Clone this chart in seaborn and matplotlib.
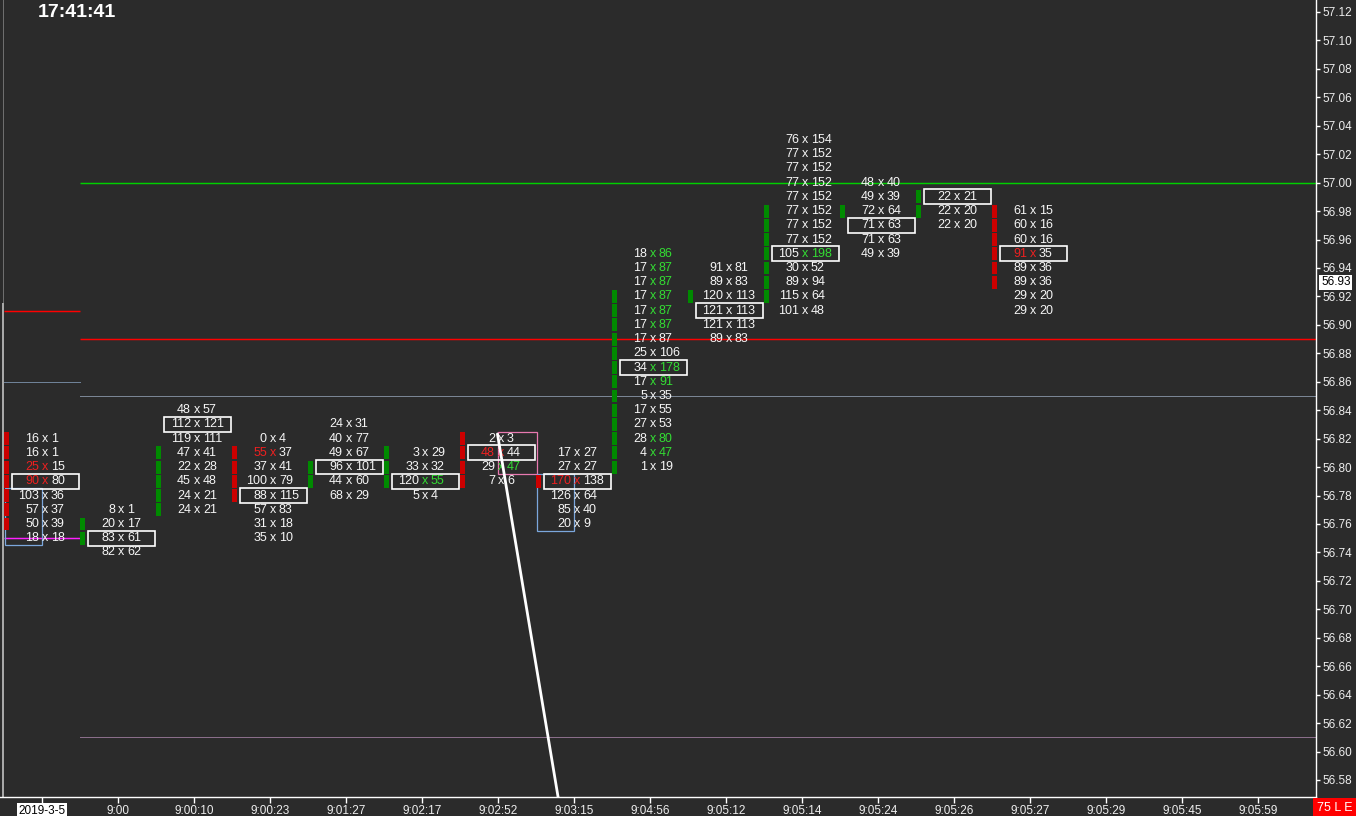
import matplotlib
matplotlib.use("Agg")
import matplotlib.pyplot as plt
import matplotlib.transforms as mtransforms
from matplotlib.patches import Rectangle
import numpy as np
import pandas as pd
import seaborn as sns

# ---------------- data ----------------
time_labels = ["2019-3-5", "9:00", "9:00:10", "9:00:23", "9:01:27", "9:02:17",
               "9:02:52", "9:03:15", "9:04:56", "9:05:12", "9:05:14", "9:05:24",
               "9:05:26", "9:05:27", "9:05:29", "9:05:45", "9:05:59"]
price_ticks = [56.58, 56.60, 56.62, 56.64, 56.66, 56.68, 56.70, 56.72, 56.74,
               56.76, 56.78, 56.80, 56.82, 56.84, 56.86, 56.88, 56.90, 56.92,
               56.94, 56.96, 56.98, 57.00, 57.02, 57.04, 57.06, 57.08, 57.10, 57.12]
last_price = 56.93

col_top = [56.82, 56.77, 56.84, 56.82, 56.83, 56.81, 56.82, 56.81, 56.95,
           56.94, 57.03, 57.00, 56.99, 56.98]
bids = [
    [16, 16, 25, 90, 103, 57, 50, 18],
    [8, 20, 83, 82],
    [48, 112, 119, 47, 22, 45, 24, 24],
    [0, 55, 37, 100, 88, 57, 31, 35],
    [24, 40, 49, 96, 44, 68],
    [3, 33, 120, 5],
    [2, 48, 29, 7],
    [17, 27, 170, 126, 85, 20],
    [18, 17, 17, 17, 17, 17, 17, 25, 34, 17, 5, 17, 27, 28, 4, 1],
    [91, 89, 120, 121, 121, 89],
    [76, 77, 77, 77, 77, 77, 77, 77, 105, 30, 89, 115, 101],
    [48, 49, 72, 71, 71, 49],
    [22, 22, 22],
    [61, 60, 60, 91, 89, 89, 29, 29],
]
asks = [
    [1, 1, 15, 80, 36, 37, 39, 18],
    [1, 17, 61, 62],
    [57, 121, 111, 41, 28, 48, 21, 21],
    [4, 37, 41, 79, 115, 83, 18, 10],
    [31, 77, 67, 101, 60, 29],
    [29, 32, 55, 4],
    [3, 44, 47, 6],
    [27, 27, 138, 64, 40, 9],
    [86, 87, 87, 87, 87, 87, 87, 106, 178, 91, 35, 55, 53, 80, 47, 19],
    [81, 83, 113, 113, 113, 83],
    [154, 152, 152, 152, 152, 152, 152, 152, 198, 52, 94, 64, 48],
    [40, 39, 64, 63, 63, 39],
    [21, 20, 20],
    [15, 16, 16, 35, 36, 36, 20, 20],
]
imbalance = [
    "..rr....",
    "....",
    "........",
    ".r......",
    "......",
    "..g.",
    ".rg.",
    "..r...",
    "gggggg..gg...gg.",
    "......",
    "........g....",
    "......",
    "...",
    "...r....",
]
poc_price = [56.79, 56.75, 56.83, 56.78, 56.80, 56.79, 56.81, 56.79, 56.87,
             56.91, 56.95, 56.97, 56.99, 56.95]
bar_dir = ["down", "up", "up", "down", "up", "up", "down", "down", "up", "up",
           "up", "up", "up", "down"]
bar_high = [56.82, 56.76, 56.81, 56.81, 56.80, 56.81, 56.82, 56.79, 56.92,
            56.92, 56.98, 56.98, 56.99, 56.98]
bar_low = [56.76, 56.75, 56.77, 56.78, 56.79, 56.79, 56.79, 56.79, 56.80,
           56.92, 56.92, 56.98, 56.98, 56.93]

# short levels over the first column, long levels over the rest
short_levels = [56.91, 56.86, 56.75]
short_colors = ["#ff0000", "#6f8298", "#ff20ff"]
short_bold = [True, False, True]
long_levels = [57.00, 56.89, 56.85, 56.61]
long_colors = ["#00d000", "#ff0000", "#7a8594", "#8a6e8a"]
long_bold = [True, True, False, False]

# highlight rectangles
hl_col = [0, 6, 7]
hl_side = ["left", "right", "left"]
hl_top = [56.78, 56.82, 56.79]
hl_bottom = [56.75, 56.80, 56.76]
hl_color = ["#7ba7dc", "#e879b0", "#7ba7dc"]

# drawn trend line
trend_x = [5.993, 6.80]
trend_p = [56.8233, 56.565]

# ---------------- style ----------------
BG = "#2b2b2b"
WHITE = "#f6f6f6"
RED = "#ee2020"
GREEN = "#33dd33"
BAR_UP = "#008a00"
BAR_DN = "#cc0000"
ONEPX = 0.72

sns.set_theme(style="dark", rc={"axes.facecolor": BG, "figure.facecolor": BG})
plt.rcParams["font.family"] = ["Liberation Sans", "DejaVu Sans"]

W, H = 1356, 816
fig = plt.figure(figsize=(W / 100, H / 100), dpi=100)
ax = fig.add_axes([0, 19 / H, 1316 / W, 797 / H])
ax.set_facecolor(BG)

COLW = 76.0            # pixels per column
PXP = 1422.2           # pixels per price unit
PX = 1 / COLW
XMIN = -42 / COLW
XMAX = (1316 - 42) / COLW
PTOP = 57.12 + 12 / PXP
PBOT = 57.12 - 785 / PXP
ax.set_xlim(XMIN, XMAX)
ax.set_ylim(PBOT, PTOP)
ax.grid(False)


def level(lv, x0, x1, c, bold):
    if bold:
        ax.hlines(lv, x0, x1, colors=c, linewidth=1.05, zorder=2, antialiased=True)
    else:
        ax.hlines(lv, x0, x1, colors=c, linewidth=ONEPX, zorder=2, antialiased=False)


for lv, c, bd in zip(short_levels, short_colors, short_bold):
    level(lv, -0.5, 0.5, c, bd)
for lv, c, bd in zip(long_levels, long_colors, long_bold):
    level(lv, 0.5, XMAX, c, bd)

# left edge line
lx = (3 - 42) / COLW
ax.vlines(lx, 57.12 - (303 - 12) / PXP, PTOP, colors="#6e6e6e", linewidth=ONEPX,
          zorder=2, antialiased=False)
ax.vlines(lx, PBOT, 57.12 - (303 - 12) / PXP, colors="#a8a8a8", linewidth=2 * ONEPX,
          zorder=2, antialiased=False)

# highlight rectangles
for c, side, t, b, col in zip(hl_col, hl_side, hl_top, hl_bottom, hl_color):
    if side == "left":
        x0, w = c - 37.5 * PX, 37.5 * PX
    else:
        x0, w = c, 39 * PX
    ax.add_patch(Rectangle((x0, b - 0.005), w, (t - b) + 0.01, fill=False,
                           edgecolor=col, linewidth=0.9, zorder=3))

# candle body bars
for i in range(len(col_top)):
    n = int(round((bar_high[i] - bar_low[i]) / 0.01)) + 1
    ps = [round(bar_high[i] - 0.01 * k, 2) for k in range(n)]
    ax.bar([i - 35.5 * PX] * n, [0.0091] * n, width=5 * PX,
           bottom=[p - 0.00455 for p in ps],
           color=BAR_UP if bar_dir[i] == "up" else BAR_DN, linewidth=0, zorder=3)

# POC boxes
for i, pp in enumerate(poc_price):
    ax.add_patch(Rectangle((i - 30 * PX, pp - 0.0052), 67 * PX, 0.0104, fill=False,
                           edgecolor="white", linewidth=1.2, zorder=4))

# footprint text
FS = 9
for i, top in enumerate(col_top):
    for k, (b, a) in enumerate(zip(bids[i], asks[i])):
        p = round(top - 0.01 * k, 2)
        m = imbalance[i][k]
        bc = RED if m == "r" else WHITE
        xc = RED if m == "r" else (GREEN if m == "g" else WHITE)
        ac = GREEN if m == "g" else WHITE
        ax.text(i - 3 * PX, p, str(b), ha="right", va="center", color=bc, fontsize=FS, zorder=5)
        ax.text(i + 3 * PX, p, "x", ha="center", va="center", color=xc, fontsize=FS, zorder=5)
        ax.text(i + 9 * PX, p, str(a), ha="left", va="center", color=ac, fontsize=FS, zorder=5)

# trend line
trend_df = pd.DataFrame({"x": trend_x, "p": trend_p})
sns.lineplot(data=trend_df, x="x", y="p", ax=ax, color="white", linewidth=2.0,
             sort=False, legend=False, zorder=6)
ax.set_xlim(XMIN, XMAX)
ax.set_ylim(PBOT, PTOP)
ax.set_xlabel("")
ax.set_ylabel("")

# axes
for s in ["left", "top"]:
    ax.spines[s].set_visible(False)
for s in ["right", "bottom"]:
    ax.spines[s].set_visible(True)
    ax.spines[s].set_color("white")
    ax.spines[s].set_linewidth(1.0)

ax.yaxis.tick_right()
ax.set_yticks(price_ticks)
ax.set_yticklabels([f"{v:.2f}" for v in price_ticks])
ax.tick_params(axis="y", which="both", direction="out", length=3, width=1,
               color="white", pad=2, labelsize=8.5, labelcolor="#eeeeee",
               left=False, right=True, labelleft=False, labelright=True)
ax.set_xticks(list(range(len(time_labels))))
ax.set_xticklabels(time_labels)
ax.tick_params(axis="x", which="both", direction="out", length=4, width=1,
               color="white", pad=1.5, labelsize=8.5, labelcolor="#eeeeee",
               bottom=True, top=False)
first = ax.get_xticklabels()[0]
first.set_color("black")
first.set_bbox(dict(facecolor="white", edgecolor="none", pad=1.2))

# last price tag
trans = mtransforms.blended_transform_factory(ax.transAxes, ax.transData)
ax.text(1.0 + 5 / 1316, last_price, f"{last_price:.2f}", transform=trans, ha="left",
        va="center", color="black", fontsize=8.5, zorder=7, clip_on=False,
        bbox=dict(facecolor="white", edgecolor="none", pad=1.2))

# clock & corner tag
fig.text(38 / W, 1 - 4 / H, "17:41:41", ha="left", va="top", color="white",
         fontsize=14, fontweight="bold")
fig.text(1334.5 / W, 8 / H, "75 L E", ha="center", va="center", color="white",
         fontsize=9, bbox=dict(facecolor="#ff0000", edgecolor="none", pad=2.6))

fig.savefig("out.png", dpi=100, facecolor=BG)
